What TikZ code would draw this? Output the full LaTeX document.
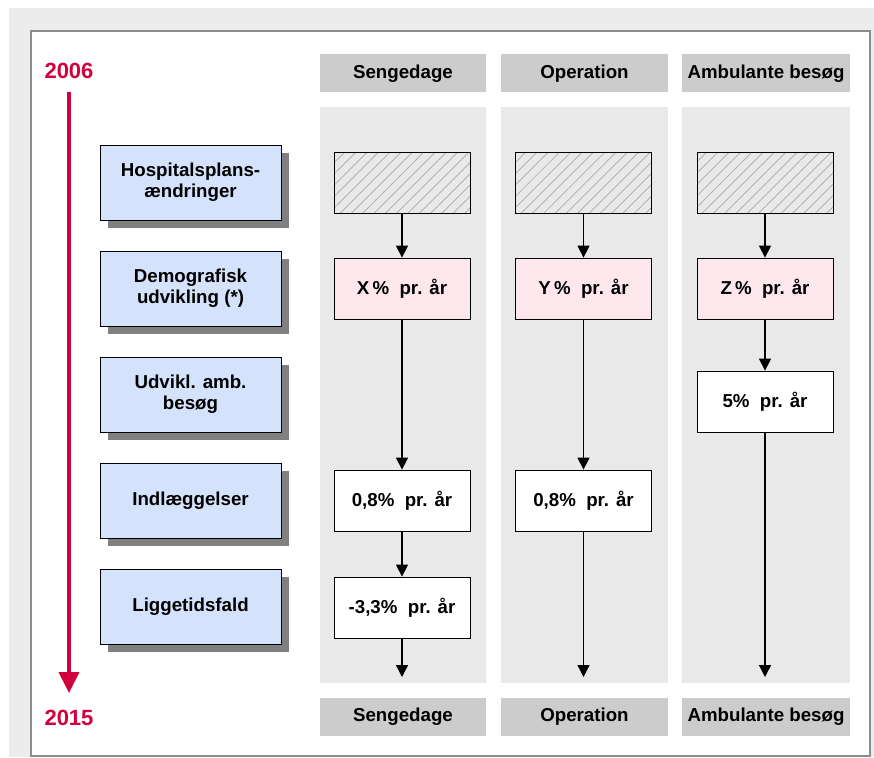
\documentclass[tikz,border=0pt]{standalone}
\usepackage{fontspec}
\setmainfont{Liberation Sans}
\usepackage{xcolor}
\usepackage{tikz}
\usetikzlibrary{positioning}
\usetikzlibrary{arrows.meta}
\usetikzlibrary{shadows}
\usetikzlibrary{patterns.meta}

\definecolor{outergray}{HTML}{ECECEC}
\definecolor{framegray}{HTML}{8C8C8C}
\definecolor{panelgray}{HTML}{E9E9E9}
\definecolor{headgray}{HTML}{CCCCCC}
\definecolor{factorblue}{HTML}{D4E2FB}
\definecolor{ratepink}{HTML}{FCE8EC}
\definecolor{yearred}{HTML}{D2003C}
\definecolor{shadowgray}{HTML}{808080}
\definecolor{hatchgray}{HTML}{A8A8A8}

\tikzset{
  txt/.style={font=\bfseries\fontsize{18.7}{21}\selectfont},
  head/.style={txt, fill=headgray, minimum width=166pt, minimum height=38pt, inner sep=0pt},
  factor/.style={txt, draw, line width=1pt, fill=factorblue, align=center,
    minimum width=181pt, minimum height=75pt, inner sep=0pt,
    drop shadow={shadow xshift=8pt, shadow yshift=-8pt, fill=shadowgray, opacity=1}},
  rate/.style={txt, draw, line width=0.8pt, fill=white, minimum width=136pt, minimum height=61pt, inner sep=0pt},
  demo/.style={rate, fill=ratepink},
  plan/.style={draw, line width=0.8pt, preaction={fill=panelgray}, minimum width=136pt, minimum height=61pt,
    pattern={Lines[angle=45, distance=8pt, line width=0.7pt]}, pattern color=hatchgray},
  flow/.style={line width=1.4pt, -{Triangle[length=12pt, width=12pt]}},
  year/.style={font=\bfseries\fontsize{22}{24}\selectfont, text=yearred}
}

\begin{document}
\begin{tikzpicture}[x=1pt, y=-1pt]

\useasboundingbox (0,0) rectangle (874,757);

% Background and frame
\fill[outergray] (9,8) rectangle (874,757);
\draw[framegray, line width=1.5pt, fill=white] (31,31) rectangle (870,756);

% Column panels
\fill[panelgray] (320,107) rectangle (486,683);
\fill[panelgray] (501,107) rectangle (668,683);
\fill[panelgray] (682,107) rectangle (850,683);

% Headers top and bottom
\node[head] (seng) at (403,73.5) {Sengedage};
\node[head, minimum width=167pt] (oper) at (584.5,73.5) {Operation};
\node[head, minimum width=168pt] (amb) at (766,73.5) {Ambulante besøg};
\node[head] (sengb) at (403,716.5) {Sengedage};
\node[head, minimum width=167pt] (operb) at (584.5,716.5) {Operation};
\node[head, minimum width=168pt] (ambb) at (766,716.5) {Ambulante besøg};

% Time line
\node[year] (y06) at (69,71) {2006};
\node[year] (y15) at (69,718) {2015};
\draw[yearred, line width=4pt, -{Triangle[length=21pt, width=20pt]}] (69,92) -- (69,693);

% Factors on the left
\node[factor] (f1) at (190.5,182.5) {Hospitalsplans-\\ændringer};
\node[factor] (f2) at (190.5,288.5) {Demografisk\\udvikling (*)};
\node[factor] (f3) at (190.5,394.5) {Udvikl. amb.\\besøg};
\node[factor] (f4) at (190.5,500.5) {Indlæggelser};
\node[factor] (f5) at (190.5,606.5) {Liggetidsfald};

% Column centres
\coordinate (c1) at (402,0);
\coordinate (c2) at (583.5,0);
\coordinate (c3) at (765,0);

% Sengedage
\node[plan] (p1) at (c1 |- f1) {};
\node[demo] (x1) at (c1 |- f2) {X\,\%\ \ pr. år};
\node[rate] (i1) at (c1 |- f4) {0,8\%\ \ pr. år};
\node[rate] (l1) at (402,607.5) {-3,3\%\ \ pr. år};
\coordinate (e1) at (402,677);

% Operation
\node[plan] (p2) at (c2 |- f1) {};
\node[demo] (x2) at (c2 |- f2) {Y\,\%\ \ pr. år};
\node[rate] (i2) at (c2 |- f4) {0,8\%\ \ pr. år};
\coordinate (e2) at (583.5,677);

% Ambulante besoeg
\node[plan] (p3) at (c3 |- f1) {};
\node[demo] (x3) at (c3 |- f2) {Z\,\%\ \ pr. år};
\node[rate] (a3) at (765,401.5) {5\%\ \ pr. år};
\coordinate (e3) at (765,677);

% Arrows
\draw[flow] (p1) -- (x1);
\draw[flow] (x1) -- (i1);
\draw[flow] (i1) -- (l1);
\draw[flow] (l1) -- (e1);
\draw[flow] (p2) -- (x2);
\draw[flow] (x2) -- (i2);
\draw[flow] (i2) -- (e2);
\draw[flow] (p3) -- (x3);
\draw[flow] (x3) -- (a3);
\draw[flow] (a3) -- (e3);

\end{tikzpicture}
\end{document}
